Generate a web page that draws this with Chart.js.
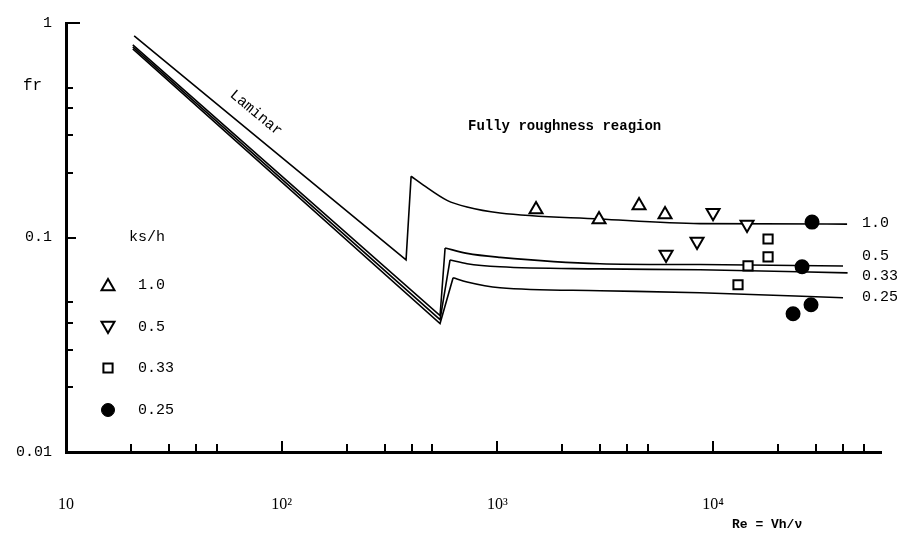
<!DOCTYPE html>
<html>
<head>
<meta charset="utf-8">
<script src="https://cdn.jsdelivr.net/npm/chart.js@4"></script>
<style>
  body { margin: 0; background: #fff; }
  canvas { display: block; }
</style>
</head>
<body>
<canvas id="chart" width="904" height="537"></canvas>
<script>
// axis ticks
const xMajor = [10, 100, 1000, 10000];
const xLabels = ["10", "10\u00b2", "10\u00b3", "10\u2074"];
const xMinor = [20, 30, 40, 50, 200, 300, 400, 500, 2000, 3000, 4000, 5000, 20000, 30000, 40000, 50000];
const yMajor = [0.01, 0.1, 1];
const yLabels = ["0.01", "0.1", "1"];
const yMinor = [0.02, 0.03, 0.04, 0.05, 0.2, 0.3, 0.4, 0.5];

// curves: laminar branch + jump, then the rough branch
const lamRe10 = [20.7, 377, 398];
const lamFr10 = [0.87, 0.0786, 0.193];
const roughRe10 = [398, 452, 584, 723, 1028, 2990, 8700, 41770];
const roughFr10 = [0.193, 0.176, 0.149, 0.1386, 0.130, 0.122, 0.116, 0.1155];

const lamRe05 = [20.4, 542, 572];
const lamFr05 = [0.790, 0.0432, 0.0894];
const roughRe05 = [572, 723, 1028, 2990, 8700, 40000];
const roughFr05 = [0.0894, 0.0843, 0.0808, 0.0755, 0.0748, 0.0737];

const lamRe033 = [20.4, 542, 603];
const lamFr033 = [0.774, 0.0414, 0.0786];
const roughRe033 = [603, 723, 1028, 2990, 8700, 42000];
const roughFr033 = [0.0786, 0.0755, 0.0730, 0.0714, 0.0707, 0.0684];

const lamRe025 = [20.4, 542, 623];
const lamFr025 = [0.758, 0.0397, 0.0649];
const roughRe025 = [623, 723, 1028, 2990, 8700, 40000];
const roughFr025 = [0.0649, 0.0620, 0.0583, 0.0565, 0.0553, 0.0524];

// measured points, ks/h
const upRe = [1510, 2958, 4534, 5984];
const upFr = [0.135, 0.1213, 0.141, 0.128];
const downRe = [6050, 8422, 9990, 14360];
const downFr = [0.0834, 0.0958, 0.1306, 0.1149];
const sqRe = [13040, 14510, 17970, 17970];
const sqFr = [0.0602, 0.0737, 0.0812, 0.0984];
const dotRe = [28740, 25840, 28430, 23470];
const dotFr = [0.118, 0.0730, 0.0486, 0.0441];

const ksLabels = ["1.0", "0.5", "0.33", "0.25"];

function pts(xs, ys) {
  return xs.map((v, i) => ({ x: v, y: ys[i] }));
}

function lineSet(xs, ys, smooth) {
  return {
    data: pts(xs, ys),
    showLine: true,
    borderColor: "#000",
    borderWidth: 1.6,
    pointRadius: 0,
    tension: 0,
    cubicInterpolationMode: smooth ? "monotone" : "default",
    order: 2
  };
}

function markSet(xs, ys, style, r, rot, fill) {
  return {
    data: pts(xs, ys),
    showLine: false,
    pointStyle: style,
    pointRadius: r,
    pointRotation: rot,
    pointBackgroundColor: fill,
    pointBorderColor: "#000",
    pointBorderWidth: 2,
    order: 1
  };
}

const mono = "'Liberation Mono', 'DejaVu Sans Mono', monospace";

const decor = {
  id: "decor",
  afterDraw(chart) {
    const { ctx, scales: { x, y }, chartArea: a } = chart;
    ctx.save();
    ctx.strokeStyle = "#000";
    ctx.fillStyle = "#000";
    ctx.lineWidth = 2;
    ctx.beginPath();
    xMinor.forEach(v => {
      const px = Math.round(x.getPixelForValue(v));
      ctx.moveTo(px, a.bottom); ctx.lineTo(px, a.bottom - 8);
    });
    xMajor.slice(1).forEach(v => {
      const px = Math.round(x.getPixelForValue(v));
      ctx.moveTo(px, a.bottom); ctx.lineTo(px, a.bottom - 11);
    });
    yMinor.forEach(v => {
      const py = Math.round(y.getPixelForValue(v));
      ctx.moveTo(a.left, py); ctx.lineTo(a.left + 7, py);
    });
    let py = Math.round(y.getPixelForValue(0.1));
    ctx.moveTo(a.left, py); ctx.lineTo(a.left + 10, py);
    py = Math.round(y.getPixelForValue(1));
    ctx.moveTo(a.left, py); ctx.lineTo(a.left + 14, py);
    ctx.stroke();

    ctx.textBaseline = "middle";
    ctx.textAlign = "left";
    ctx.font = "16px " + mono;
    ctx.fillText("fr", 23, 86);

    ctx.font = "bold 14px " + mono;
    ctx.fillText("Fully roughness reagion", 468, 126);

    ctx.font = "bold 13px " + mono;
    ctx.fillText("Re = Vh/\u03bd", 732, 525);

    // right-hand curve labels
    ctx.font = "15px " + mono;
    const rightY = [223, 256, 276, 297];
    ksLabels.forEach((t, i) => ctx.fillText(t, 862, rightY[i]));

    // legend
    ctx.font = "15px " + mono;
    ctx.fillText("ks/h", 129, 237);
    const rowY = [285, 327, 368, 410];
    const styles = [
      { pointStyle: "triangle", radius: 7.5, rotation: 0, borderWidth: 2 },
      { pointStyle: "triangle", radius: 7.5, rotation: 180, borderWidth: 2 },
      { pointStyle: "rect", radius: 6.5, rotation: 0, borderWidth: 2 },
      { pointStyle: "circle", radius: 6.5, rotation: 0, borderWidth: 1 }
    ];
    styles.forEach((s, i) => {
      ctx.fillStyle = i === 3 ? "#000" : "#fff";
      ctx.strokeStyle = "#000";
      ctx.lineWidth = s.borderWidth;
      Chart.helpers.drawPoint(ctx, s, 108, rowY[i] + (i === 0 ? 1.5 : i === 1 ? -1.5 : 0));
      ctx.fillStyle = "#000";
      ctx.fillText(ksLabels[i], 138, rowY[i]);
    });

    // Laminar label along the line
    ctx.translate(256, 113);
    ctx.rotate(39.6 * Math.PI / 180);
    ctx.textAlign = "center";
    ctx.font = "15px " + mono;
    ctx.fillText("Laminar", 0, 0);
    ctx.restore();
  }
};

new Chart(document.getElementById("chart"), {
  type: "scatter",
  data: {
    datasets: [
      markSet(upRe, upFr, "triangle", 7.5, 0, "#fff"),
      markSet(downRe, downFr, "triangle", 7.5, 180, "#fff"),
      markSet(sqRe, sqFr, "rect", 6.5, 0, "#fff"),
      markSet(dotRe, dotFr, "circle", 6.5, 0, "#000"),
      lineSet(lamRe10, lamFr10, false),
      lineSet(roughRe10, roughFr10, true),
      lineSet(lamRe05, lamFr05, false),
      lineSet(roughRe05, roughFr05, true),
      lineSet(lamRe033, lamFr033, false),
      lineSet(roughRe033, roughFr033, true),
      lineSet(lamRe025, lamFr025, false),
      lineSet(roughRe025, roughFr025, true)
    ]
  },
  options: {
    responsive: false,
    animation: false,
    devicePixelRatio: 1,
    layout: { padding: { left: 0, top: 21, right: 23, bottom: 0 } },
    plugins: { legend: { display: false }, tooltip: { enabled: false } },
    scales: {
      x: {
        type: "logarithmic",
        min: 10,
        max: 60000,
        afterBuildTicks: s => { s.ticks = xMajor.map(v => ({ value: v })); },
        afterFit: s => { s.height = 85; },
        grid: { display: true, drawOnChartArea: false, drawTicks: false },
        border: { display: true, color: "#000", width: 3 },
        ticks: {
          autoSkip: false,
          maxRotation: 0,
          padding: 43,
          color: "#000",
          font: { family: "'Liberation Serif', 'DejaVu Serif', serif", size: 16 },
          callback: (v) => xLabels[xMajor.indexOf(v)]
        }
      },
      y: {
        type: "logarithmic",
        min: 0.01,
        max: 1,
        afterBuildTicks: s => { s.ticks = yMajor.map(v => ({ value: v })); },
        afterFit: s => { s.width = 66; },
        grid: { display: true, drawOnChartArea: false, drawTicks: false },
        border: { display: true, color: "#000", width: 3 },
        ticks: {
          autoSkip: false,
          padding: 14,
          color: "#000",
          font: { family: mono, size: 15 },
          callback: (v) => yLabels[yMajor.indexOf(v)]
        }
      }
    }
  },
  plugins: [decor]
});
</script>
</body>
</html>
